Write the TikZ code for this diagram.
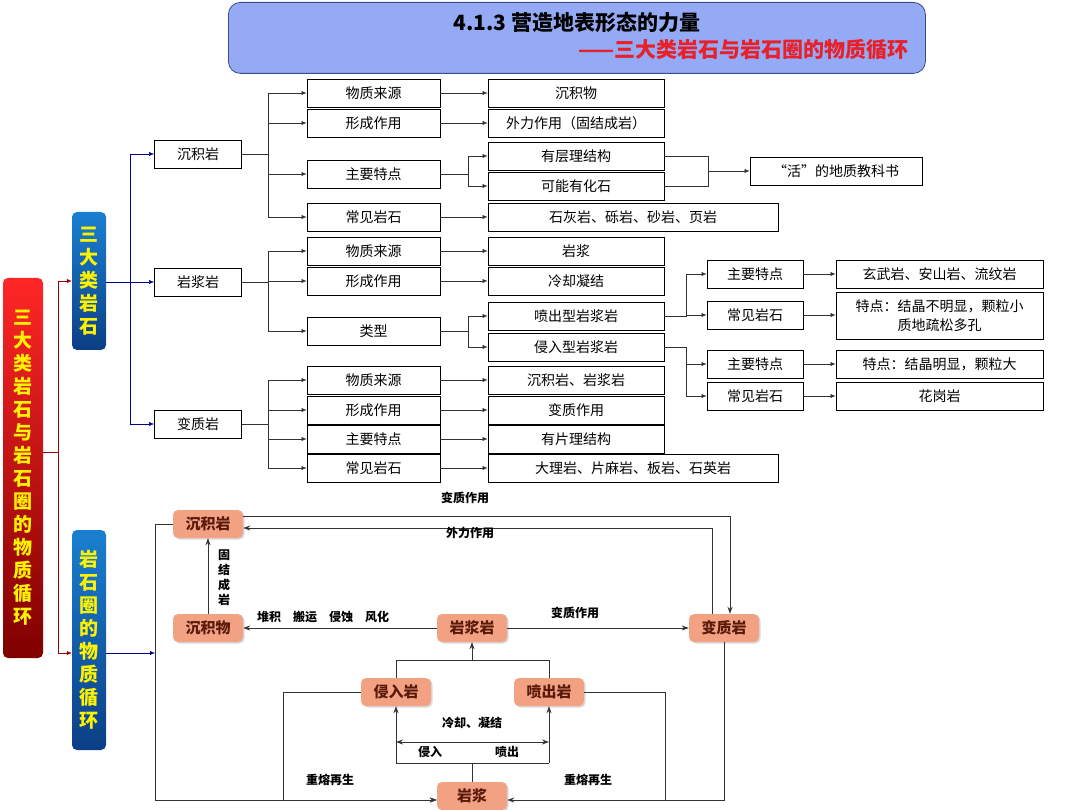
\documentclass[tikz,border=0pt]{standalone}
\usepackage{fontspec}
\setmainfont{Noto Sans CJK SC}
\usetikzlibrary{arrows.meta,shadows}
\definecolor{titlebg}{HTML}{94AAF5}
\definecolor{titlebd}{HTML}{3A4A8A}
\definecolor{org}{HTML}{F2A283}
\definecolor{orgtxt}{HTML}{5A1A0A}
\definecolor{ttred}{HTML}{E8202A}
\definecolor{lnk}{HTML}{333333}
\definecolor{bltop}{HTML}{1A7FD0}
\definecolor{blbot}{HTML}{0B3F86}
\begin{document}
\begin{tikzpicture}[x=1pt,y=-1pt,
  bx/.style={draw=black,thick,fill=white,minimum height=28,inner sep=1pt,font=\fontsize{14}{16}\selectfont},
  c2/.style={bx,minimum width=133},
  c3/.style={bx,minimum width=176},
  cw/.style={bx,minimum width=290},
  c4/.style={bx,minimum width=96},
  c5/.style={bx,minimum width=207},
  ar/.style={draw=lnk,-{Latex[length=5pt,width=4pt]}},
  ln/.style={draw=lnk},
  bar/.style={draw=none,rounded corners=5,text=yellow,font=\fontsize{19}{23}\selectfont\bfseries,align=center,inner sep=0pt},
  rk/.style={fill=org,rounded corners=5,text=orgtxt,font=\fontsize{15}{17}\selectfont\bfseries,minimum width=70,minimum height=28,drop shadow={opacity=0.3,shadow xshift=1.5pt,shadow yshift=-1.5pt}},
  lb/.style={font=\fontsize{12}{14}\selectfont\bfseries,text=black},
  cy/.style={draw=lnk,thick},
  cya/.style={draw=lnk,thick,-{Stealth[length=7pt,width=5pt]}}
]
\useasboundingbox (0,0) rectangle (1080,810);
% title
\node[draw=titlebd,thick,fill=titlebg,rounded corners=12,minimum width=697,minimum height=71,anchor=north west] (title) at (228,2) {};
\node[font=\fontsize{21}{24}\selectfont\bfseries] (t1) at (577,22) {4.1.3 营造地表形态的力量};
\node[font=\fontsize{21}{24}\selectfont\bfseries,text=ttred,anchor=east] (t2) at (912,50) {——三大类岩石与岩石圈的物质循环};
% bars
\node[bar,top color=red!85!white,bottom color=red!50!black,minimum width=40,minimum height=380] (main) at (23,468) {三\\大\\类\\岩\\石\\与\\岩\\石\\圈\\的\\物\\质\\循\\环};
\node[bar,top color=bltop,bottom color=blbot,minimum width=34,minimum height=138] (b1) at (89,281) {三\\大\\类\\岩\\石};
\node[bar,top color=bltop,bottom color=blbot,minimum width=34,minimum height=220] (b2) at (89,640) {岩\\石\\圈\\的\\物\\质\\循\\环};
\draw[draw=red!60!black,-{Latex[length=5pt,width=4pt]}] (main.east) ++(0,-16) coordinate (m0) -- ++(15,0) coordinate (m1) |- (b1.west |- 0,281);
\draw[draw=red!60!black,-{Latex[length=5pt,width=4pt]}] (m1) |- (b2.west |- 0,653);
% level 1
\node[bx,minimum width=87] (sed) at (198,154) {沉积岩};
\node[bx,minimum width=87] (ign) at (198,282) {岩浆岩};
\node[bx,minimum width=87] (met) at (198,424) {变质岩};
\draw[draw=blue!60!black,-{Latex[length=5pt,width=4pt]}] (b1.east |- 0,282) -- (130,282) |- (sed.west);
\draw[draw=blue!60!black,-{Latex[length=5pt,width=4pt]}] (b1.east |- 0,282) -- (ign.west);
\draw[draw=blue!60!black,-{Latex[length=5pt,width=4pt]}] (130,282) |- (met.west);
% sedimentary
\node[c2] (s1) at (373.5,93) {物质来源};
\node[c2] (s2) at (373.5,123) {形成作用};
\node[c2] (s3) at (373.5,174) {主要特点};
\node[c2] (s4) at (373.5,217) {常见岩石};
\node[c3] (s1a) at (576,93) {沉积物};
\node[c3] (s2a) at (576,123) {外力作用（固结成岩）};
\node[c3] (s3a) at (576,156) {有层理结构};
\node[c3] (s3b) at (576,186) {可能有化石};
\node[cw] (s4a) at (633,217) {石灰岩、砾岩、砂岩、页岩};
\node[bx,minimum width=172] (book) at (836,171) {“活”的地质教科书};
\foreach \n in {s1,s2,s3,s4}{\draw[ar] (sed.east) -- (268,154) |- (\n.west);}
\draw[ar] (s1) -- (s1a); \draw[ar] (s2) -- (s2a); \draw[ar] (s4) -- (s4a);
\draw[ar] (s3.east) -- (468,174) |- (s3a.west);
\draw[ar] (468,174) |- (s3b.west);
\draw[ln] (s3a.east) -- (708,156) -- (708,186) -- (s3b.east);
\draw[ar] (708,171) -- (book.west);
% igneous
\node[c2] (i1) at (373.5,251) {物质来源};
\node[c2] (i2) at (373.5,281) {形成作用};
\node[c2] (i3) at (373.5,331) {类型};
\node[c3] (i1a) at (576,251) {岩浆};
\node[c3] (i2a) at (576,281) {冷却凝结};
\node[c3] (ie) at (576,316) {喷出型岩浆岩};
\node[c3] (ii) at (576,347) {侵入型岩浆岩};
\foreach \n in {i1,i2,i3}{\draw[ar] (ign.east) -- (268,282) |- (\n.west);}
\draw[ar] (i1) -- (i1a); \draw[ar] (i2) -- (i2a);
\draw[ar] (i3.east) -- (468,331) |- (ie.west);
\draw[ar] (468,331) |- (ii.west);
\node[c4] (e1) at (755,274) {主要特点};
\node[c4] (e2) at (755,315) {常见岩石};
\node[c5] (e1a) at (939.5,274) {玄武岩、安山岩、流纹岩};
\node[c5,minimum height=47,align=center,font=\fontsize{14}{19}\selectfont] (e2a) at (939.5,316) {特点：结晶不明显，颗粒小\\质地疏松多孔};
\draw[ar] (ie.east) -- (686,316) |- (e1.west);
\draw[ar] (686,316) |- (e2.west);
\draw[ar] (e1) -- (e1a); \draw[ar] (e2) -- (e2a.west |- e2);
\node[c4] (n1) at (755,364) {主要特点};
\node[c4] (n2) at (755,396) {常见岩石};
\node[c5] (n1a) at (939.5,364) {特点：结晶明显，颗粒大};
\node[c5] (n2a) at (939.5,396) {花岗岩};
\draw[ar] (ii.east) -- (686,347) |- (n1.west);
\draw[ar] (686,347) |- (n2.west);
\draw[ar] (n1) -- (n1a); \draw[ar] (n2) -- (n2a);
% metamorphic
\node[c2] (m1b) at (373.5,380) {物质来源};
\node[c2] (m2b) at (373.5,410) {形成作用};
\node[c2] (m3b) at (373.5,439) {主要特点};
\node[c2] (m4b) at (373.5,468) {常见岩石};
\node[c3] (m1a) at (576,380) {沉积岩、岩浆岩};
\node[c3] (m2a) at (576,410) {变质作用};
\node[c3] (m3a) at (576,439) {有片理结构};
\node[cw] (m4a) at (633,468) {大理岩、片麻岩、板岩、石英岩};
\foreach \n in {m1b,m2b,m3b,m4b}{\draw[ar] (met.east) -- (268,424) |- (\n.west);}
\draw[ar] (m1b) -- (m1a); \draw[ar] (m2b) -- (m2a); \draw[ar] (m3b) -- (m3a); \draw[ar] (m4b) -- (m4a);
% cycle
\node[rk] (cs) at (208,524) {沉积岩};
\node[rk] (cw2) at (208,628) {沉积物};
\node[rk] (cm) at (472,628) {岩浆岩};
\node[rk] (cb) at (724,628) {变质岩};
\node[rk] (cq) at (396,692) {侵入岩};
\node[rk] (cp) at (549,692) {喷出岩};
\node[rk] (cy) at (472,796) {岩浆};
\draw[draw=blue!60!black,-{Latex[length=5pt,width=4pt]}] (b2.east |- 0,653) -- (155,653);
\draw[cya] (cs.west) -- (155,524) -- (155,800) -- (cy.west |- 0,800);
\draw[cya] (cs.east |- 0,516) -- (730,516) -- (cb.north -| 730,0);
\draw[cya] (cb.north -| 712,0) -- (712,528) -- (cs.east |- 0,528);
\node[lb] (l1) at (465,498) {变质作用};
\node[lb] (l2) at (470,533) {外力作用};
\draw[cya] (cw2) -- (cs);
\node[lb,align=center,font=\fontsize{12}{15}\selectfont\bfseries] (l3) at (224,578) {固\\结\\成\\岩};
\draw[cya] (cm) -- (cw2);
\node[lb] (l4) at (323,617) {堆积\quad 搬运\quad 侵蚀\quad 风化};
\draw[cya] (cm) -- (cb);
\node[lb] (l5) at (575,613) {变质作用};
\draw[cy] (cq.north) -- (396,660) -- (549,660) -- (cp.north);
\draw[cya] (472,660) -- (cm.south);
\draw[cya] (cq.west) -- (283,692) -- (283,800) -- (cy.west |- 0,800);
\draw[cya] (cp.east) -- (665,692) -- (665,800) -- (cy.east |- 0,800);
\draw[cy] (cb.south) -- (cb.south |- 0,800) -- (665,800);
\node[lb] (l6) at (330,780) {重熔再生};
\node[lb] (l7) at (588,780) {重熔再生};
\draw[cy] (cy.north) -- (472,763);
\draw[cy] (396,763) -- (549,763);
\draw[cya] (396,763) -- (cq.south);
\draw[cya] (549,763) -- (cp.south);
\draw[draw=lnk,thick,{Stealth[length=7pt,width=5pt]}-{Stealth[length=7pt,width=5pt]}] (396,742) -- (549,742);
\node[lb] (l8) at (472,723) {冷却、凝结};
\node[lb] (l9) at (430,752) {侵入};
\node[lb] (l10) at (507,752) {喷出};
\end{tikzpicture}
\end{document}
